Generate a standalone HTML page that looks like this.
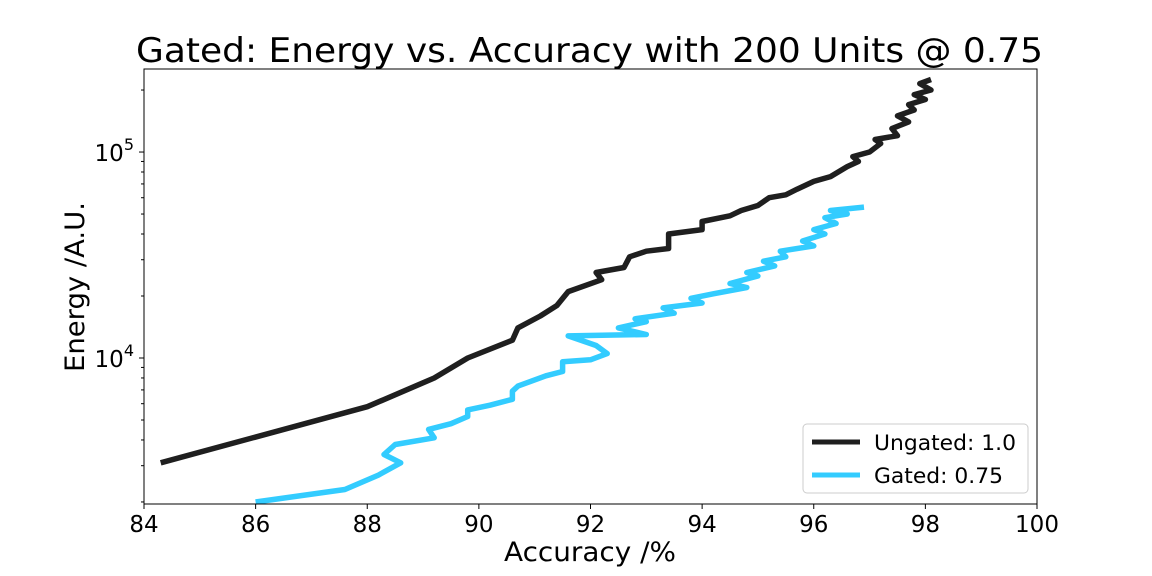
<!DOCTYPE html>
<html><head><meta charset="utf-8"><style>
body{margin:0;background:#fff;}
svg{display:block;font-family:"DejaVu Sans","Liberation Sans",sans-serif;}
</style></head><body>
<svg id="chart" width="1152" height="576" viewBox="0 0 1152 576" xmlns="http://www.w3.org/2000/svg">
<rect width="1152" height="576" fill="#fff"/>
<text x="136" y="62" font-size="34" textLength="907" lengthAdjust="spacingAndGlyphs">Gated: Energy vs. Accuracy with 200 Units @ 0.75</text>
<g id="plot"></g>
<rect x="144" y="69" width="893" height="435" fill="none" stroke="#000" stroke-width="1"/>
<text x="504" y="561" font-size="27" textLength="172" lengthAdjust="spacingAndGlyphs">Accuracy /%</text>
<text transform="translate(84,372) rotate(-90)" font-size="27" textLength="170" lengthAdjust="spacingAndGlyphs">Energy /A.U.</text>
<g>
<rect x="803" y="424" width="225" height="69" rx="4" fill="#fff" stroke="#ccc"/>
<line x1="812" y1="442" x2="860" y2="442" stroke="#1f1f1f" stroke-width="5"/>
<text x="874" y="450" font-size="21" textLength="142" lengthAdjust="spacingAndGlyphs">Ungated: 1.0</text>
<line x1="812" y1="475" x2="860" y2="475" stroke="#33ccff" stroke-width="5"/>
<text x="874" y="483" font-size="21" textLength="129" lengthAdjust="spacingAndGlyphs">Gated: 0.75</text>
</g>
</svg>
<script>
const xTicks=[84,86,88,90,92,94,96,98,100];
const ungatedAcc=[84.3,88.0,89.2,89.8,90.6,90.7,91.1,91.4,91.6,92.2,92.1,92.6,92.7,93.0,93.4,93.4,94.0,94.0,94.5,94.7,95.0,95.2,95.5,95.7,96.0,96.3,96.6,96.8,96.7,97.0,97.2,97.1,97.5,97.4,97.7,97.5,97.8,97.7,98.0,97.8,98.1,97.9,98.1];
const ungatedEnergy=[3100,5800,8000,10000,12200,14000,16000,18000,21000,24000,26000,27500,31000,33000,34000,40000,42000,46000,49000,52000,55000,60000,62000,66000,72000,76000,85000,90000,95000,100000,110000,115000,120000,130000,140000,150000,160000,170000,180000,190000,200000,215000,225000];
const gatedAcc=[86.0,87.6,88.2,88.6,88.3,88.5,89.2,89.1,89.5,89.8,89.8,90.2,90.6,90.6,90.7,91.2,91.5,91.5,92.0,92.3,92.1,91.6,93.0,92.5,93.0,92.8,93.5,93.3,94.0,93.8,94.2,94.8,94.5,95.0,94.8,95.3,95.1,95.5,95.4,96.0,95.8,96.2,96.0,96.4,96.2,96.6,96.3,96.9];
const gatedEnergy=[2000,2300,2700,3100,3400,3800,4100,4500,4800,5200,5600,5900,6300,6900,7300,8200,8600,9600,9800,10500,11500,12800,13000,14000,15000,15500,16500,17500,18500,19500,20500,22000,23000,25000,26000,28000,29500,31000,33000,35000,37000,40000,42000,45000,48000,50000,52000,54000];
const X0=144,X1=1037,Y0=69,Y1=504,xmin=84,xmax=100,ymin=1955,ymax=253000;
const xs=v=>X0+(v-xmin)/(xmax-xmin)*(X1-X0);
const ys=v=>Y1-(Math.log10(v)-Math.log10(ymin))/(Math.log10(ymax)-Math.log10(ymin))*(Y1-Y0);
const NS='http://www.w3.org/2000/svg';
const g=document.getElementById('plot');
function mk(t,a){const e=document.createElementNS(NS,t);for(const k in a)e.setAttribute(k,a[k]);g.appendChild(e);return e;}
xTicks.forEach(t=>{
 const l=mk('line',{x1:xs(t),x2:xs(t),y1:Y1,y2:Y1+5,stroke:'#000'});
 
 
 const tx=mk('text',{x:xs(t),y:Y1+28,'font-size':23,'text-anchor':'middle'});tx.textContent=t;
 
 
});
for(let p=3;p<=5;p++)for(let m=1;m<=9;m++){
 const v=m*Math.pow(10,p);if(v<ymin||v>ymax)continue;
 const l=mk('line',{x1:X0,x2:X0-(m==1?5:3),y1:ys(v),y2:ys(v),stroke:'#000'});
 
 
 if(m==1){const tx=mk('text',{x:X0-10,y:ys(v)+9,'font-size':23,'text-anchor':'end'});
 tx.innerHTML='10<tspan dy="-11" font-size="16">'+p+'</tspan>';
 
 }
}
function line(a,e,c,n){const pts=a.map((v,i)=>xs(v).toFixed(1)+','+ys(e[i]).toFixed(1)).join(' ');
 const p=mk('polyline',{points:pts,fill:'none',stroke:c,'stroke-width':5.5,'stroke-linejoin':'round'});
 
 }
line(ungatedAcc,ungatedEnergy,'#1f1f1f','ungated-line');
line(gatedAcc,gatedEnergy,'#33ccff','gated-line');
</script>
</body></html>
